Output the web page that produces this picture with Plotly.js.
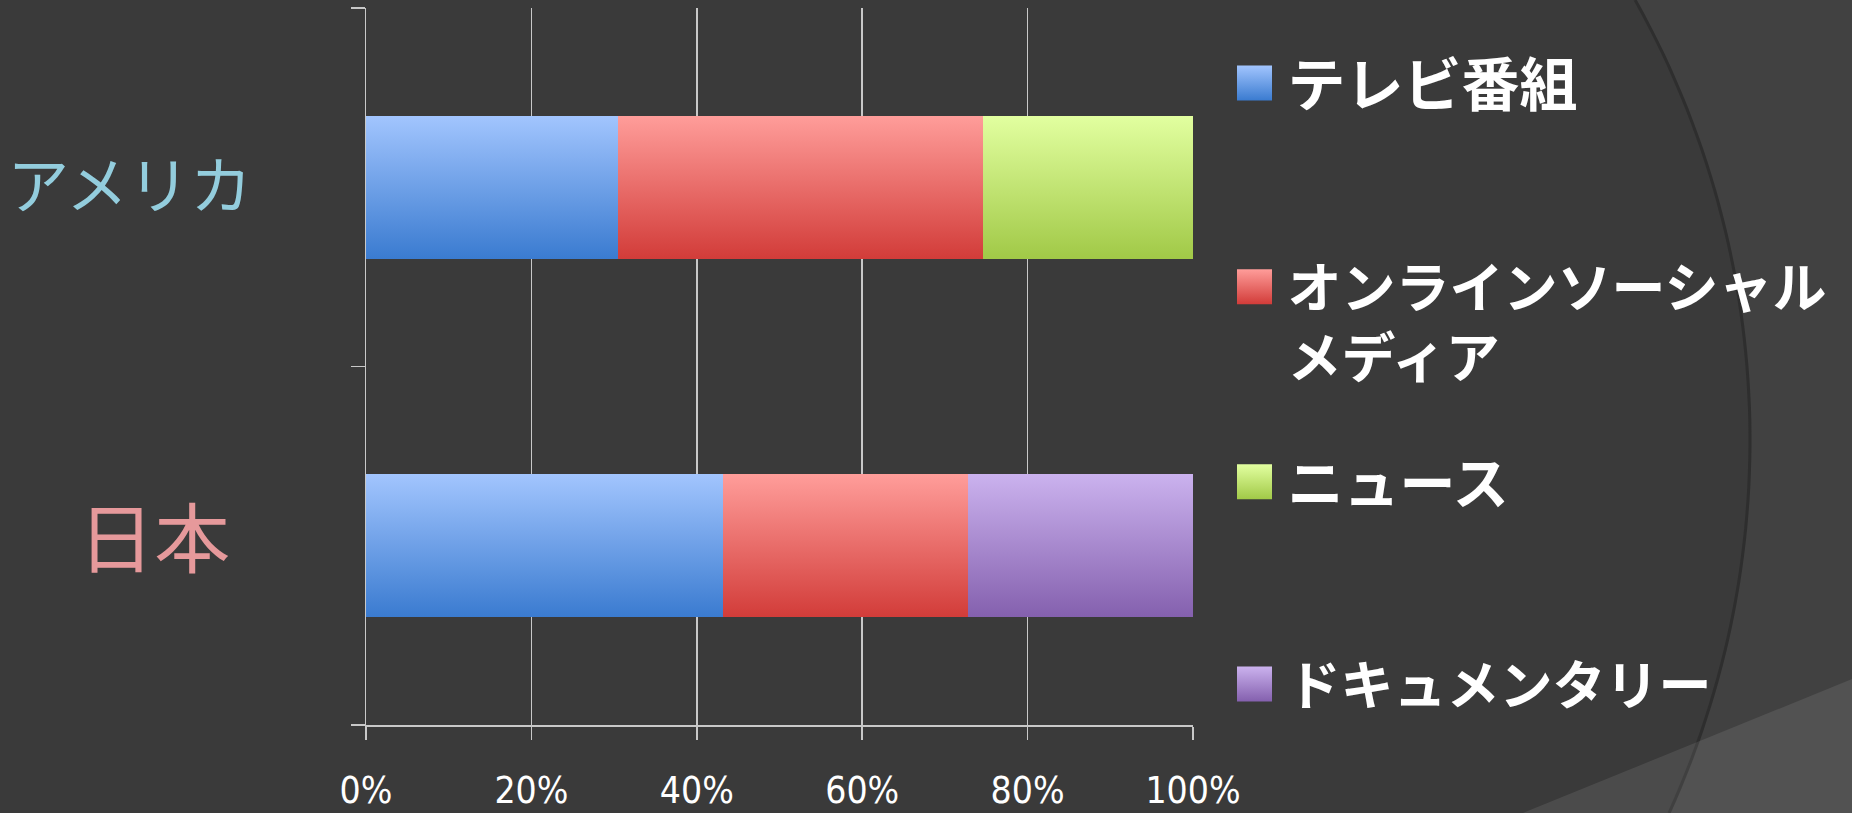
<!DOCTYPE html>
<html><head><meta charset="utf-8">
<script src="https://cdn.plot.ly/plotly-3.0.1.min.js"></script>
<style>html,body{margin:0;padding:0;background:#3a3a3a;overflow:hidden;} #chart{width:1852px;height:813px;}</style>
</head><body><div id="chart"></div>
<script>
// ---- data ----
const categories = ['アメリカ', '日本'];
const seriesNames = ['テレビ番組', 'オンラインソーシャル<br>メディア', 'ニュース', 'ドキュメンタリー'];
const tvShows = [30.5, 43.2];
const onlineSocialMedia = [44.1, 29.6];
const news = [25.4, 0];
const documentary = [0, 27.2];
const xTickValues = [0, 20, 40, 60, 80, 100];
const xTickLabels = ['0%', '20%', '40%', '60%', '80%', '100%'];
const categoryLabels = ['<span style="color:#93cddd;font-size:62px">アメリカ</span>', '<span style="color:#e6999b;font-size:76px">日本&nbsp;&#8202;</span>'];

// ---- styles ----
const seriesValues = [tvShows, onlineSocialMedia, news, documentary];
const solid = ['#6a9de5', '#e86a68', '#c2e27c', '#a68bd2'];
const grads = [['#a2c5fe', '#3a7bd0'], ['#ff9d9a', '#d23c39'], ['#e2ffa0', '#a1c947'], ['#cbb2ee', '#8460ae']];
const legendIds = ['legend', 'legend2', 'legend3', 'legend4'];
const legendSizes = [58, 54, 56, 53];

const W = 1852, H = 813, L = 366, R = 1193, T = 8, B = 725;
const px = X => (X - L) / (R - L);
const py = Y => (B - Y) / (B - T);

const traces = seriesValues.map((vals, i) => ({
  type: 'bar', orientation: 'h', y: categories, x: vals, name: seriesNames[i],
  width: 0.4, marker: {color: solid[i], line: {width: 0}}, legend: legendIds[i], hoverinfo: 'skip'
}));

// background decorations
const cx = 850, cy = 440, r = 900;
let arcPts = [];
for (let k = 0; k <= 60; k++) {
  const Y = k * H / 60;
  const X = cx + Math.sqrt(r * r - (Y - cy) * (Y - cy));
  arcPts.push([X, Y]);
}
const arcLine = arcPts.map((p, k) => (k ? 'L' : 'M') + px(p[0]).toFixed(4) + ',' + py(p[1]).toFixed(4)).join(' ');
const outside = arcLine + ` L${px(W)},${py(H)} L${px(W)},${py(0)} Z`;
const wedge = `M${px(1523)},${py(H)} L${px(W)},${py(679)} L${px(W)},${py(H)} Z`;

const legY = [0.895, 0.562, 0.339, 0.057];
const layout = {
  width: W, height: H,
  margin: {l: L, r: W - R, t: T, b: H - B, pad: 0, autoexpand: false},
  paper_bgcolor: '#3a3a3a', plot_bgcolor: 'rgba(0,0,0,0)',
  barmode: 'stack',
  showlegend: true,
  xaxis: {
    range: [0, 100], tickmode: 'array', tickvals: xTickValues, ticktext: xTickLabels,
    showgrid: true, gridcolor: '#c8c8c8', gridwidth: 1.5, zeroline: false,
    showline: true, linecolor: '#c8c8c8', linewidth: 1.5,
    ticks: 'outside', ticklen: 13, tickwidth: 1.5, tickcolor: '#c8c8c8',
    tickfont: {family: 'Liberation Sans Narrow, DejaVu Sans Condensed, Roboto Condensed, sans-serif', size: 37, color: '#ffffff'},
    ticklabelstandoff: 19
  },
  yaxis: {
    type: 'category', autorange: 'reversed', tickmode: 'array', tickvals: categories, ticktext: categoryLabels,
    showgrid: false, zeroline: false, showline: true, linecolor: '#c8c8c8', linewidth: 1.5,
    ticks: 'outside', tickson: 'boundaries', ticklen: 14, tickwidth: 1.5, tickcolor: '#c8c8c8',
    tickfont: {family: 'Noto Sans CJK JP, sans-serif', size: 62, color: '#93cddd'},
    ticklabelstandoff: 100
  },
  shapes: [
    {type: 'path', xref: 'paper', yref: 'paper', path: outside, fillcolor: '#414141', line: {width: 0}, layer: 'below'},
    {type: 'path', xref: 'paper', yref: 'paper', path: arcLine, line: {color: '#2e2e2e', width: 3}, layer: 'below'},
    {type: 'path', xref: 'paper', yref: 'paper', path: wedge, fillcolor: 'rgba(255,255,255,0.09)', line: {width: 0}, layer: 'below'}
  ]
};
legendIds.forEach((id, i) => {
  layout[id] = {x: px(1221.5), xanchor: 'left', y: legY[i], yanchor: 'middle',
    font: {family: 'Noto Sans CJK JP, sans-serif', size: legendSizes[i], color: '#ffffff', weight: 700},
    bgcolor: 'rgba(0,0,0,0)', borderwidth: 0, itemwidth: 56, valign: i === 1 ? 'top' : 'middle'};
});

const gd = document.getElementById('chart');
Plotly.newPlot(gd, traces, layout, {staticPlot: true}).then(() => {
  const ns = 'http://www.w3.org/2000/svg';
  const svg = gd.querySelector('svg.main-svg');
  let defs = svg.querySelector('defs');
  grads.forEach((g, i) => {
    const lg = document.createElementNS(ns, 'linearGradient');
    lg.setAttribute('id', 'barGrad' + i);
    lg.setAttribute('x1', '0'); lg.setAttribute('y1', '0'); lg.setAttribute('x2', '0'); lg.setAttribute('y2', '1');
    [[0, g[0]], [1, g[1]]].forEach(s => {
      const st = document.createElementNS(ns, 'stop');
      st.setAttribute('offset', s[0]); st.setAttribute('stop-color', s[1]);
      lg.appendChild(st);
    });
    defs.appendChild(lg);
  });
  gd.querySelectorAll('.barlayer .trace').forEach(tr => {
    const idx = tr.__data__[0].trace.index;
    tr.querySelectorAll('path').forEach(p => { p.style.fill = 'url(#barGrad' + idx + ')'; });
  });
  gd.querySelectorAll('g.traces').forEach(tr => {
    const idx = tr.__data__[0].trace.index;
    const p = tr.querySelector('.legendpoints path');
    if (p) { p.setAttribute('d', 'M17.5,17.5H-17.5V-17.5H17.5Z'); p.style.fill = 'url(#barGrad' + idx + ')'; }
  });
});
</script>
</body></html>
